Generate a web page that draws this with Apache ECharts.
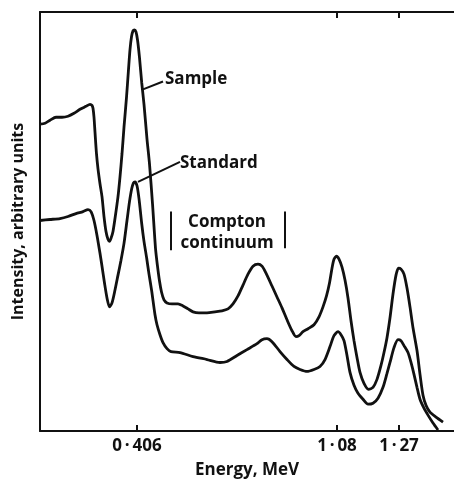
<!DOCTYPE html>
<html>
<head>
<meta charset="utf-8">
<script src="https://cdn.jsdelivr.net/npm/echarts@6/dist/echarts.min.js"></script>
<style>html,body{margin:0;padding:0;background:#fff}#c{width:454px;height:484px}</style>
</head>
<body>
<div id="c"></div>
<script>
// x: pulse-height position (arbitrary channel units), y: intensity (arbitrary units)
const energyTickPos = [97, 297, 359];
const energyTickLabels = ['0\u2009·\u2009406', '1\u2009·\u200908', '1\u2009·\u200927'];

const sampleCurve = [
 [0,309],[5,310],[10,313],[16,316],[22,316],[28,317],[34,320],[40,324],[46,327],[50,329],[52,328],[53,325],
 [54,316],[55,301],[56.5,279],[58,264],[60,249],[62,236],[64,216],[66,201],[68,193],[69.5,191],[71,194],
 [73,201],[75,214],[78,236],[80,256],[82,279],[84,306],[86.5,336],[88.5,364],[90,384],[91.5,397],[93,403],
 [94.5,404],[96,402],[97.5,394],[99.5,376],[101.7,351],[104,329],[107,294],[109.5,269],[112.5,229],
 [115.5,184],[117.5,166],[119.5,151],[121.5,140],[124,132],[127,129],[132,128],[138,128],[143,126],
 [148,123],[153,120],[159,119],[167,119],[175,120],[182,121],[188,123],[193,128],[198,136],[203,147],
 [208,158],[213,166],[218,168],[222,166],[226,159],[232,146],[237,135],[242,124],[247,112],[252,101],
 [256,95],[259,96],[263,100],[268,103],[274,107],[279,115],[283,125],[286.5,136],[289.5,149],[292,164],
 [294,173],[296.5,176],[299,173],[302,165],[305,152],[308,134],[311,111],[314,91],[317,74],[320,59],
 [324,48],[328.5,42],[333,44],[337,52],[341,66],[344,79],[347,94],[350,114],[353,138],[356,157],
 [358.5,164],[361,163],[364,158],[367,144],[370,125],[373,104],[377,81],[380,57],[383,36],[386,26],
 [390,19],[396,14],[403,9]
];

const standardCurve = [
 [0,212],[10,213],[20,214],[28,216],[36,219],[43,221],[48,223],[51,221],[54,212],[57,197],[60,179],
 [62,166],[64.5,149],[67,134],[69.5,125],[72,129],[75,142],[78,157],[81,172],[84,189],[87,212],
 [89.5,231],[91.7,244],[93.5,250],[95,251],[97,247],[99,234],[101.7,209],[104,191],[106.7,174],
 [109,158],[111.7,141],[115,117],[117,107],[120,97],[123,89],[127,83],[131,80],[140,79],[153,75],
 [167,72],[180,69],[187,70],[197,76],[207,82],[217,88],[222,92],[227,93],[232,90],[240,80],[247,72],
 [254,65],[260,62],[267,60],[274,62],[280,65],[285,72],[290,85],[294,96],[298,100],[301,97],[304,91],
 [307,76],[310,59],[314,46],[318,38],[323,32],[328,27],[333,28],[338,33],[343,44],[347,58],[350,69],
 [354,84],[358,92],[361,91],[364,86],[368,79],[371,69],[374,57],[377,44],[380,32],[384,23],[388,16],
 [393,8],[398,1]
];

// annotation anchors (data units)
const sampleLeader = [[103,344],[123,352]];
const standardLeader = [[98,251],[140,271]];
const comptonLeftBar = [[131,182],[131,221]];
const comptonRightBar = [[245,184],[245,221]];
const sampleLabelAt = [125,354];
const standardLabelAt = [140,270];
const comptonLabelAt = [187,200];

const FONT = "'Open Sans', 'DejaVu Sans', sans-serif";
const ink = '#111';

const chart = echarts.init(document.getElementById('c'), null, {renderer: 'canvas'});

const textPoint = (coord, text, pos, extra) => ({
  coord: coord, symbol: 'circle', symbolSize: 0,
  label: Object.assign({show: true, formatter: text, position: pos, distance: 0,
    color: ink, fontFamily: FONT, fontWeight: 'bold', fontSize: 16}, extra || {})
});
const seg = (pts) => [{coord: pts[0]}, {coord: pts[1]}];

chart.setOption({
  animation: false,
  backgroundColor: '#fff',
  grid: {left: 40, top: 12, right: 0, bottom: 50, containLabel: false},
  xAxis: [{
    type: 'value', min: 0, max: 414, position: 'bottom',
    name: 'Energy, MeV', nameLocation: 'middle', nameGap: 31,
    nameTextStyle: {color: ink, fontFamily: FONT, fontWeight: 'bold', fontSize: 17},
    axisLine: {show: true, lineStyle: {color: ink, width: 2}},
    axisTick: {show: true, inside: true, length: 6, lineStyle: {color: ink, width: 2}, customValues: energyTickPos},
    axisLabel: {show: true, margin: 7, color: ink, fontFamily: FONT, fontWeight: 'bold', fontSize: 17,
      customValues: energyTickPos,
      formatter: (v) => energyTickLabels[energyTickPos.indexOf(v)] || ''},
    splitLine: {show: false}
  }, {
    type: 'value', min: 0, max: 414, position: 'top',
    axisLine: {show: true, onZero: false, lineStyle: {color: ink, width: 2}},
    axisTick: {show: true, inside: true, length: 6, lineStyle: {color: ink, width: 2}, customValues: energyTickPos},
    axisLabel: {show: false},
    splitLine: {show: false}
  }],
  yAxis: {
    type: 'value', min: 0, max: 422,
    name: 'Intensity, arbitrary units', nameLocation: 'middle', nameGap: 14, nameRotate: 90,
    nameTextStyle: {color: ink, fontFamily: FONT, fontWeight: 'bold', fontSize: 16},
    axisLine: {show: true, lineStyle: {color: ink, width: 2}},
    axisTick: {show: false}, axisLabel: {show: false}, splitLine: {show: false}
  },
  series: [{
    name: 'Sample', type: 'line', data: sampleCurve, smooth: 0.25, symbol: 'none',
    lineStyle: {color: ink, width: 2.8}, z: 3,
    markLine: {silent: true, symbol: 'none', label: {show: false},
      lineStyle: {color: ink, width: 2, type: 'solid'},
      data: [seg(sampleLeader), seg(comptonLeftBar), seg(comptonRightBar)]},
    markPoint: {silent: true, data: [
      textPoint(sampleLabelAt, 'Sample', 'right', {fontSize: 17}),
      textPoint(comptonLabelAt, 'Compton\ncontinuum', 'inside', {align: 'center', lineHeight: 21, fontSize: 17})
    ]}
  }, {
    name: 'Standard', type: 'line', data: standardCurve, smooth: 0.25, symbol: 'none',
    lineStyle: {color: ink, width: 2.8}, z: 3,
    markLine: {silent: true, symbol: 'none', label: {show: false},
      lineStyle: {color: ink, width: 2, type: 'solid'},
      data: [seg(standardLeader)]},
    markPoint: {silent: true, data: [textPoint(standardLabelAt, 'Standard', 'right', {fontSize: 17})]}
  }]
});
</script>
</body>
</html>
